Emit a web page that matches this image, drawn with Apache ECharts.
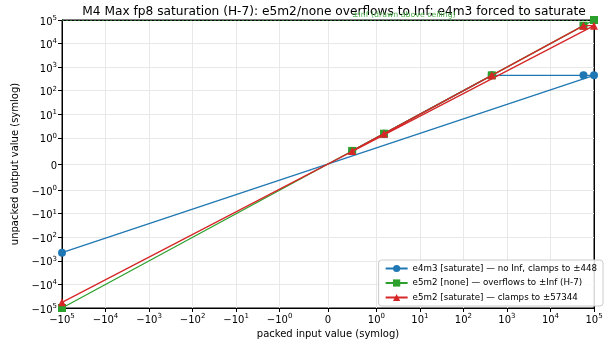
<!DOCTYPE html>
<html>
<head>
<meta charset="utf-8">
<script src="https://cdn.jsdelivr.net/npm/echarts@6/dist/echarts.min.js"></script>
<style>
  html, body { margin: 0; padding: 0; background: #fff; }
  #chart { width: 608px; height: 345px; }
</style>
</head>
<body>
<div id="chart"></div>
<script>
// packed inputs and what each mode gives back
var inputs   = [0.5, 1.5, 448, 57344, 100000, -100000];
var e4m3Sat  = [0.5, 1.5, 448, 448, 448, -448];
var e5m2None = [0.5, 1.5, 448, 57344, Infinity, -Infinity];
var e5m2Sat  = [0.5, 1.5, 448, 57344, 57344, -57344];
var ceiling = 100000; // +-Inf is drawn at the ceiling
var tickValues = [-1e5, -1e4, -1e3, -1e2, -1e1, -1, 0, 1, 1e1, 1e2, 1e3, 1e4, 1e5];
var seriesNames = [
	'e4m3 [saturate] \u2014 no Inf, clamps to \u00b1448',
	'e5m2 [none] \u2014 overflows to \u00b1Inf (H-7)',
	'e5m2 [saturate] \u2014 clamps to \u00b157344'
];
var colors = ['#1f77b4', '#2ca02c', '#d62728'];
var symbols = ['circle', 'rect', 'triangle'];

var linAdj = 1 / (1 - 1 / 10); // matplotlib symlog, linthresh 1, linscale 1
function symlog(v) {
	if(v === Infinity) v = ceiling;
	if(v === -Infinity) v = -ceiling;
	var a = Math.abs(v);
	if(a <= 1) return v * linAdj;
	return Math.sign(v) * (linAdj + Math.log10(a));
}

var labelMap = {};
var tickPos = [];
for(var i = 0; i < tickValues.length; i++) {
	var t = tickValues[i];
	var p = symlog(t);
	tickPos.push(p);
	var txt;
	if(t === 0) txt = '{b|0}';
	else {
		var e = Math.round(Math.log10(Math.abs(t)));
		txt = '{b|' + (t < 0 ? '\u221210' : '10') + '}{s|' + e + '}';
	}
	labelMap[p.toFixed(4)] = txt;
}
var lim = symlog(ceiling);

function makeData(ys) {
	var out = [];
	for(var i = 0; i < inputs.length; i++) out.push([symlog(inputs[i]), symlog(ys[i])]);
	return out;
}
var allY = [e4m3Sat, e5m2None, e5m2Sat];

var rich = {
	b: { fontSize: 10, color: '#000', fontFamily: 'DejaVu Sans', padding: [4, 0, 0, 0] },
	s: { fontSize: 7, color: '#000', fontFamily: 'DejaVu Sans', padding: [0, 0, 4, 0] }
};
function fmt(v) { return labelMap[v.toFixed(4)] || ''; }

var series = [];
for(var k = 0; k < 3; k++) {
	var s = {
		name: seriesNames[k],
		type: 'line',
		data: makeData(allY[k]),
		symbol: symbols[k],
		symbolSize: 8,
		showAllSymbol: true,
		clip: true,
		lineStyle: { color: colors[k], width: 1.3 },
		itemStyle: { color: colors[k] },
		z: 2 + k,
		animation: false
	};
	if(k == 1) {
		s.markLine = {
			silent: true,
			symbol: 'none',
			label: { show: false },
			lineStyle: { color: '#2ca02c', type: [2, 2], width: 1, opacity: 0.6 },
			data: [{ yAxis: lim }]
		};
	}
	series.push(s);
}

var chart = echarts.init(document.getElementById('chart'));
chart.setOption({
	animation: false,
	textStyle: { fontFamily: 'DejaVu Sans' },
	title: {
		text: 'M4 Max fp8 saturation (H-7): e5m2/none overflows to Inf; e4m3 forced to saturate',
		left: 329,
		textAlign: 'center',
		top: 1,
		textStyle: { fontSize: 12.2, fontWeight: 'normal', color: '#000', fontFamily: 'DejaVu Sans' }
	},
	graphic: [{
		type: 'text',
		left: 352,
		top: 11,
		z: 100,
		style: { text: '\u00b1Inf (drawn above ceiling)', fill: '#4cb14c', fontSize: 7.8, fontFamily: 'DejaVu Sans' }
	}],
	grid: { left: 62, right: 14, top: 20, bottom: 37, show: true, borderColor: '#000', borderWidth: 1, backgroundColor: 'transparent' },
	legend: {
		orient: 'vertical',
		right: 5,
		top: 260,
		itemWidth: 22,
		itemHeight: 9,
		itemGap: 5.5,
		padding: [4, 6, 4, 6],
		backgroundColor: 'rgba(255,255,255,0.85)',
		borderColor: '#ccc',
		borderWidth: 1,
		borderRadius: 3,
		textStyle: { fontSize: 8.7, color: '#000', fontFamily: 'DejaVu Sans' },
		data: seriesNames
	},
	xAxis: [{
		type: 'value',
		min: -lim,
		max: lim,
		name: 'packed input value (symlog)',
		nameLocation: 'middle',
		nameGap: 21,
		nameTextStyle: { fontSize: 10, color: '#000' },
		axisLine: { show: true, onZero: false, lineStyle: { color: '#000' } },
		axisTick: { show: true, length: 4, customValues: tickPos, lineStyle: { color: '#000' } },
		axisLabel: { customValues: tickPos, formatter: fmt, rich: rich, margin: 3, color: '#000' },
		splitLine: { show: true, lineStyle: { color: '#e8e8e8', width: 1 } }
	}, {
		type: 'value', position: 'top', min: -lim, max: lim,
		axisLine: { show: true, onZero: false, lineStyle: { color: '#000' } },
		axisTick: { show: false }, axisLabel: { show: false }, splitLine: { show: false }
	}],
	yAxis: [{
		type: 'value',
		min: -lim,
		max: lim,
		name: 'unpacked output value (symlog)',
		nameLocation: 'middle',
		nameGap: 39,
		nameTextStyle: { fontSize: 10, color: '#000' },
		axisLine: { show: true, onZero: false, lineStyle: { color: '#000' } },
		axisTick: { show: true, length: 4, customValues: tickPos, lineStyle: { color: '#000' } },
		axisLabel: { customValues: tickPos, formatter: fmt, rich: rich, margin: 5, color: '#000' },
		splitLine: { show: true, lineStyle: { color: '#e8e8e8', width: 1 } }
	}, {
		type: 'value', position: 'right', min: -lim, max: lim,
		axisLine: { show: true, onZero: false, lineStyle: { color: '#000' } },
		axisTick: { show: false }, axisLabel: { show: false }, splitLine: { show: false }
	}],
	series: series
});
</script>
</body>
</html>
